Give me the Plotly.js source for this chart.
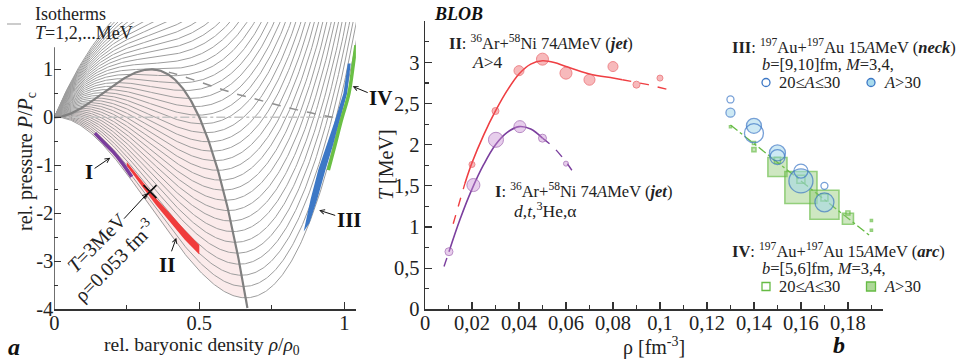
<!DOCTYPE html>
<html><head><meta charset="utf-8">
<script src="https://cdn.plot.ly/plotly-3.0.1.min.js"></script>
<style>html,body{margin:0;padding:0;background:#fff}#chart{width:969px;height:360px}</style>
</head><body><div id="chart"></div>
<script>
// ================= Panel a : isotherms (model) =================
const isothermT = [1,2,3,4,5,6,7,8,9,10,11,12,13,14,15,16,17,18,19,20,21,22,23,24,25,26,27,28,29,30,31,32,33,34,35,36,37,38,39,40]; // MeV
const criticalT = 25; // MeV (reduced temperature t = T / criticalT)
// reduced EOS  P/Pc = 9 t x + 27 (x^3 - x^2),  x = rho/rho0   (critical point x=1/3, P/Pc=1)
function eos(x, t){ return 9*t*x + 27*(x*x*x - x*x); }

// curve from critical point (read)
const dashRho = [0.333,0.40,0.47,0.548,0.62,0.70,0.78,0.87,0.96];
const dashP   = [1.0,0.93,0.80,0.64,0.50,0.37,0.24,0.11,0.0];
const zeroRho = [0.0,0.97];
const zeroP   = [0,0];

// coloured bands (read)
const bandI_rho = [0.14,0.17,0.203,0.235,0.267];
const bandI_P   = [-0.33,-0.52,-0.72,-0.96,-1.24];
const bandII_rho = [0.25,0.30,0.35,0.40,0.45,0.50];
const bandII_Pup = [-0.93,-1.31,-1.68,-2.01,-2.35,-2.66];
const bandII_Plo = [-1.01,-1.42,-1.82,-2.18,-2.55,-2.86];
const bandIII_P     = [-2.38,-1.7,-1.1,-0.58,-0.06,0.5,1.12];
const bandIII_left  = [0.860,0.884,0.910,0.940,0.968,0.997,1.012];
const bandIII_rightP= [-2.2,-1.7,-1.1,-0.58,-0.06,0.5,1.12];
const bandIII_right = [0.880,0.907,0.935,0.961,0.984,1.010,1.022];
const bandIV_rho = [0.945,0.968,0.99,1.016,1.031,1.04];
const bandIV_P   = [-1.1,-0.58,-0.06,0.5,1.1,1.5];
const crossRho = [0.33], crossP = [-1.55];

// ================= Panel b : BLOB data =================
const redRho = [0.02,0.03,0.04,0.05,0.06,0.07,0.08,0.09,0.10];
const redT   = [1.76,2.41,2.90,3.04,2.87,2.79,2.95,2.73,2.81];
const redSize= [6,7,10,12,12,11,10,7,6];
const redFitRho = [0.017,0.02,0.025,0.03,0.035,0.04,0.045,0.05,0.055,0.06,0.07,0.08,0.084];
const redFitT   = [1.53,1.78,2.12,2.41,2.66,2.86,2.98,3.02,3.0,2.95,2.86,2.81,2.79];
const redLoRho = [0.012,0.017], redLoT = [1.04,1.53];
const redHiRho = [0.084,0.095,0.105], redHiT = [2.79,2.73,2.66];

const purRho = [0.0102,0.0206,0.0302,0.0404,0.050,0.060];
const purT   = [0.70,1.51,2.06,2.22,2.08,1.77];
const purSize= [8,13,15,12,8,5];
const purFitRho = [0.0102,0.015,0.02,0.025,0.03,0.035,0.04,0.045,0.05];
const purFitT   = [0.70,1.10,1.46,1.76,2.00,2.15,2.22,2.19,2.08];
const purLoRho = [0.0081,0.0102], purLoT = [0.52,0.70];
const purHiRho = [0.05,0.055,0.06,0.0625], purHiT = [2.08,1.96,1.79,1.69];

const neckOpenRho = [0.13,0.14,0.15,0.16,0.17];
const neckOpenT   = [2.55,2.14,1.85,1.68,1.50];
const neckOpenSize= [7,19,15,14,7];
const neckFillRho = [0.13,0.14,0.15,0.16,0.17];
const neckFillT   = [2.39,2.23,1.90,1.56,1.30];
const neckFillSize= [9,15,16,24,19];

const arcOpenRho = [0.13,0.14,0.15,0.16,0.17,0.18];
const arcOpenT   = [2.22,2.02,1.81,1.58,1.36,1.17];
const arcOpenSize= [2,3,6,8,7,4];
const arcFillRho = [0.14,0.15,0.16,0.17,0.18,0.19,0.19];
const arcFillT   = [1.94,1.73,1.48,1.27,1.10,1.08,0.96];
const arcFillSize= [4,19,32,29,11,2,2];
const arcFitRho = [0.13,0.19], arcFitT = [2.24,0.88];

const leftYTicks = [-4,-3,-2,-1,0,1];
const leftYText  = ['-4','-3','-2','-1','0','1'];
const leftXTicks = [0,0.5,1];
const leftXText  = ['0','0.5','1'];
const rightXTicks = [0,0.02,0.04,0.06,0.08,0.1,0.12,0.14,0.16,0.18];
const rightXText  = ['0','0,02','0,04','0,06','0,08','0,1','0,12','0,14','0,16','0,18'];
const rightYTicks = [0,0.5,1,1.5,2,2.5,3];
const rightYText  = ['0','0,5','1','1,5','2','2,5','3'];

// ================= build =================
const W=969, H=360;
const px = v => v/W, py = v => 1 - v/H;
const FONT = '"Liberation Serif", "Times New Roman", Times, serif';
const F = (size, color) => ({family:FONT, size:size, color:color||'#222'});

const rhoGrid=[]; for(let i=0;i<=265;i++) rhoGrid.push(i*0.004);
const isoX=[], isoY=[];
isothermT.forEach(T=>{ const t=T/criticalT; rhoGrid.forEach(r=>{isoX.push(r); isoY.push(eos(r,t));}); isoX.push(null); isoY.push(null); });

// spinodal: dP/dx = 0  ->  t = 6x - 9x^2
const t1 = isothermT[0]/criticalT;
const xLo = (54 - Math.sqrt(2916-324*t1))/162, xHi = (54 + Math.sqrt(2916-324*t1))/162;
const spX=[], spY=[];
for(let i=0;i<=200;i++){ const x = xLo + (xHi-xLo)*i/200; spX.push(x); spY.push(eos(x, 6*x-9*x*x)); }
const pinkX = spX.slice(), pinkY = spY.slice();
for(let i=200;i>=0;i--){ const x = xLo + (xHi-xLo)*i/200; pinkX.push(x); pinkY.push(eos(x,t1)); }

const traces = [];
const L = {xaxis:'x', yaxis:'y', hoverinfo:'skip', showlegend:false};
const R = {xaxis:'x2', yaxis:'y2', hoverinfo:'skip', showlegend:false};
traces.push(Object.assign({x:pinkX,y:pinkY,mode:'lines',fill:'toself',fillcolor:'rgba(246,205,205,0.4)',line:{width:0}},L));
traces.push(Object.assign({x:isoX,y:isoY,mode:'lines',line:{color:'#9d9d9d',width:1}},L));
traces.push(Object.assign({x:zeroRho,y:zeroP,mode:'lines',line:{color:'#c4c4c4',width:1.5,dash:'dashdot'}},L));
traces.push(Object.assign({x:dashRho,y:dashP,mode:'lines',line:{color:'#8f8f8f',width:1.5,dash:'dash',shape:'spline'}},L));
traces.push(Object.assign({x:spX,y:spY,mode:'lines',line:{color:'#808080',width:2.2}},L));
traces.push(Object.assign({x:bandI_rho,y:bandI_P,mode:'lines',line:{color:'#7a3d9c',width:3.5,shape:'spline'}},L));
traces.push(Object.assign({x:bandII_rho.concat(bandII_rho.slice().reverse()),y:bandII_Pup.concat(bandII_Plo.slice().reverse()),mode:'lines',fill:'toself',fillcolor:'#f03c3c',line:{width:0}},L));
traces.push(Object.assign({x:bandIII_left.concat(bandIII_right.slice().reverse()),y:bandIII_P.concat(bandIII_rightP.slice().reverse()),mode:'lines',fill:'toself',fillcolor:'#3d78c6',line:{width:0}},L));
traces.push(Object.assign({x:bandIV_rho,y:bandIV_P,mode:'lines',line:{color:'#6abf45',width:3.5,shape:'spline'}},L));
traces.push(Object.assign({x:crossRho,y:crossP,mode:'markers',marker:{symbol:'x-thin',size:13,line:{color:'#111',width:1.6}}},L));

// panel b
const redLine='#ef3e42', purLine='#7b3f9e', grn='#66bb44', blu='#3d78c6';
traces.push(Object.assign({x:redLoRho,y:redLoT,mode:'lines',line:{color:redLine,width:1.4,dash:'dash'}},R));
traces.push(Object.assign({x:redFitRho,y:redFitT,mode:'lines',line:{color:redLine,width:1.6,shape:'spline'}},R));
traces.push(Object.assign({x:redHiRho,y:redHiT,mode:'lines',line:{color:redLine,width:1.4,dash:'dash'}},R));
traces.push(Object.assign({x:purLoRho,y:purLoT,mode:'lines',line:{color:purLine,width:1.4,dash:'dash'}},R));
traces.push(Object.assign({x:purFitRho,y:purFitT,mode:'lines',line:{color:purLine,width:1.6,shape:'spline'}},R));
traces.push(Object.assign({x:purHiRho,y:purHiT,mode:'lines',line:{color:purLine,width:1.4,dash:'dash',shape:'spline'}},R));
traces.push(Object.assign({x:redRho,y:redT,mode:'markers',marker:{size:redSize,color:'rgba(239,90,95,0.6)',line:{color:'#e8545a',width:1}}},R));
traces.push(Object.assign({x:purRho,y:purT,mode:'markers',marker:{size:purSize,color:'rgba(200,140,210,0.6)',line:{color:'#9b5cae',width:1}}},R));
traces.push(Object.assign({x:arcFitRho,y:arcFitT,mode:'lines',line:{color:grn,width:1.3,dash:'dashdot'}},R));
traces.push(Object.assign({x:arcFillRho,y:arcFillT,mode:'markers',marker:{symbol:'square',size:arcFillSize,color:'rgba(140,200,110,0.6)',line:{color:grn,width:1.6}}},R));
traces.push(Object.assign({x:arcOpenRho,y:arcOpenT,mode:'markers',marker:{symbol:'square-open',size:arcOpenSize,color:grn,line:{color:grn,width:1.5}}},R));
traces.push(Object.assign({x:neckFillRho,y:neckFillT,mode:'markers',marker:{symbol:'circle',size:neckFillSize,color:'rgba(160,215,235,0.75)',line:{color:blu,width:1.3}}},R));
traces.push(Object.assign({x:neckOpenRho,y:neckOpenT,mode:'markers',marker:{symbol:'circle-open',size:neckOpenSize,color:blu,line:{color:blu,width:1.3}}},R));

const axBase = {showgrid:false,zeroline:false,ticks:'inside',ticklen:7,tickwidth:1.2,tickcolor:'#333',linecolor:'#333',linewidth:1.4,tickfont:F(20.5),fixedrange:true,tickmode:'array'};
const minorBase = {tickmode:'array',ticks:'inside',ticklen:4,tickcolor:'#333',tickwidth:1.1};

const ann = [];
function txt(x,y,text,size,opt){ ann.push(Object.assign({xref:'paper',yref:'paper',x:px(x),y:py(y),text:text,showarrow:false,xanchor:'left',yanchor:'middle',font:F(size)},opt||{})); }
function arrowLbl(xv,yv,text,ax,ay){ ann.push({xref:'x',yref:'y',x:xv,y:yv,text:text,showarrow:true,ax:ax,ay:ay,arrowhead:5,arrowsize:0.9,arrowwidth:1,arrowcolor:'#111',standoff:1,font:F(21,'#111')}); }

txt(33,14,'Isotherms',18);
txt(33,33,'<i>T</i>=1,2,...MeV',18);
txt(27,162,'rel. pressure <i>P</i>/<i>P</i><sub>c</sub>',20,{xanchor:'center',textangle:-90});
txt(202,346,'rel. baryonic density <i>ρ</i>/<i>ρ</i><sub>0</sub>',19.5,{xanchor:'center'});
txt(14,347,'<b><i>a</i></b>',24,{xanchor:'center',font:F(24,'#111')});
txt(106,253,'<i>T</i>=3MeV<br>ρ=0.053 fm<sup>-3</sup>',20,{xanchor:'center',textangle:-45});
arrowLbl(0.196,-0.83,'<b>I</b>',-22,15);
arrowLbl(0.422,-2.49,'<b>II</b>',-10,28);
arrowLbl(0.910,-1.93,'<b>III</b>',31,10);
arrowLbl(1.0255,0.652,'<b>IV</b>',29,12);
ann.push({xref:'x',yref:'y',x:0.322,y:-1.58,text:'',showarrow:true,ax:-25,ay:27,arrowhead:5,arrowsize:0.9,arrowwidth:1,arrowcolor:'#111'});

txt(458,14,'<b><i>BLOB</i></b>',18,{xanchor:'center',font:F(18,'#111')});
txt(386,165,'<i>T</i> [MeV]',20,{xanchor:'center',textangle:-90});
txt(654,346,'ρ [fm<sup>-3</sup>]',20,{xanchor:'center'});
txt(839,345,'<b><i>b</i></b>',24,{xanchor:'center',font:F(24,'#111')});
txt(447,42,'<b>II</b>: <sup>36</sup>Ar+<sup>58</sup>Ni 74<i>A</i>MeV (<b><i>jet</i></b>)',16.5);
txt(470,62,'<i>A</i>>4',17.5);
txt(493,190,'<b>I</b>: <sup>36</sup>Ar+<sup>58</sup>Ni 74<i>A</i>MeV (<b><i>jet</i></b>)',16.5);
txt(512,210,'<i>d</i>,<i>t</i>,<sup>3</sup>He,α',17.5);
txt(730,46,'<b>III</b>: <sup>197</sup>Au+<sup>197</sup>Au 15<i>A</i>MeV (<b><i>neck</i></b>)',16.5);
txt(760,64.5,'<i>b</i>=[9,10]fm, <i>M</i>=3,4,',16.5);
txt(777,82.5,'20≤<i>A</i>≤30',16.5);
txt(882,82.5,'<i>A</i>>30',16.5);
txt(730,250,'<b>IV</b>: <sup>197</sup>Au+<sup>197</sup>Au 15<i>A</i>MeV (<b><i>arc</i></b>)',16.5);
txt(760,268.5,'<i>b</i>=[5,6]fm, <i>M</i>=3,4,',16.5);
txt(777,286.5,'20≤<i>A</i>≤30',16.5);
txt(882,286.5,'<i>A</i>>30',16.5);

const shapes = [
  {type:'line',xref:'x',yref:'y',x0:0,x1:0,y0:-4,y1:1.46,line:{color:'#333',width:1.4}},
  {type:'line',xref:'paper',yref:'paper',x0:px(7),x1:px(21),y0:py(24),y1:py(24),line:{color:'#aaa',width:1.2}},
  {type:'circle',xref:'paper',yref:'paper',x0:px(762),x1:px(770),y0:py(78.5),y1:py(86.5),line:{color:blu,width:1.3}},
  {type:'circle',xref:'paper',yref:'paper',x0:px(867),x1:px(875),y0:py(78.5),y1:py(86.5),fillcolor:'rgba(160,215,235,0.9)',line:{color:blu,width:1.3}},
  {type:'rect',xref:'paper',yref:'paper',x0:px(762),x1:px(770),y0:py(282.5),y1:py(290.5),line:{color:grn,width:1.3}},
  {type:'rect',xref:'paper',yref:'paper',x0:px(866.5),x1:px(875.5),y0:py(282),y1:py(291),fillcolor:'rgba(140,200,110,0.7)',line:{color:grn,width:1.3}}
];

const layout = {
  width:W,height:H,margin:{l:0,r:0,t:0,b:0},paper_bgcolor:'#fff',plot_bgcolor:'rgba(0,0,0,0)',
  font:F(16),showlegend:false,
  xaxis:Object.assign({},axBase,{domain:[px(54.3),px(355.9)],range:[0,1.04],tickvals:leftXTicks,ticktext:leftXText,showline:true,ticklabelstandoff:-5,minor:Object.assign({tickvals:[0.25,0.75]},minorBase),anchor:'y'}),
  yaxis:Object.assign({},axBase,{domain:[1-309.3/H,1-22/H],range:[-4,1.985],tickvals:leftYTicks,ticktext:leftYText,showline:false,minor:Object.assign({tickvals:[-3.5,-2.5,-1.5,-0.5,0.5]},minorBase),anchor:'x'}),
  xaxis2:Object.assign({},axBase,{domain:[px(425),px(882.7)],range:[0,0.1948],tickvals:rightXTicks,ticktext:rightXText,showline:true,ticklabelstandoff:-5,minor:Object.assign({tickvals:[0.01,0.03,0.05,0.07,0.09,0.11,0.13,0.15,0.17,0.19]},minorBase),anchor:'y2'}),
  yaxis2:Object.assign({},axBase,{domain:[1-309.3/H,1-21.3/H],range:[0,3.5],tickvals:rightYTicks,ticktext:rightYText,showline:true,minor:Object.assign({tickvals:[0.25,0.75,1.25,1.75,2.25,2.75,3.25]},minorBase),anchor:'x2'}),
  annotations:ann, shapes:shapes
};
Plotly.newPlot('chart',traces,layout,{staticPlot:true,displayModeBar:false});
</script></body></html>
